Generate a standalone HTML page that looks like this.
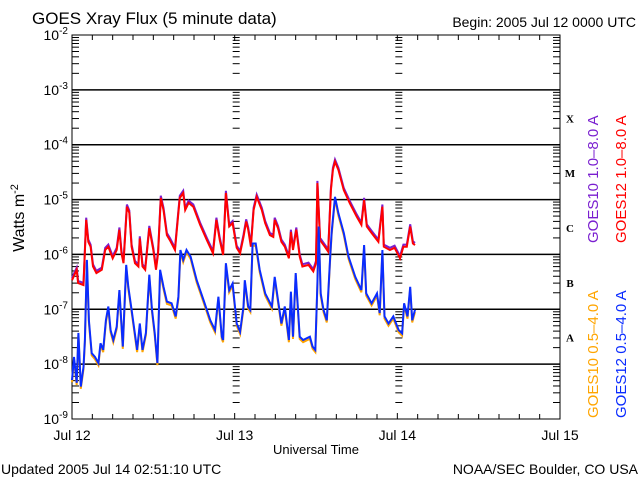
<!DOCTYPE html>
<html><head><meta charset="utf-8"><style>
html,body{margin:0;padding:0;background:#fff;}
svg{display:block;font-family:"Liberation Sans",sans-serif;}
</style></head><body>
<svg id="chart" width="640" height="480" viewBox="0 0 640 480" xmlns="http://www.w3.org/2000/svg">
<rect width="640" height="480" fill="#fff"/>
<text x="32" y="24" font-size="17">GOES Xray Flux (5 minute data)</text>
<text x="636" y="27" font-size="14" text-anchor="end">Begin:  2005 Jul 12 0000 UTC</text>
<text transform="translate(24,218) rotate(-90)" font-size="16" text-anchor="middle">Watts m<tspan dy="-6" font-size="11">-2</tspan></text>
<text x="316" y="454" font-size="13" text-anchor="middle">Universal Time</text>
<text x="1" y="474" font-size="14">Updated 2005 Jul 14 02:51:10 UTC</text>
<text x="638" y="474" font-size="14" text-anchor="end">NOAA/SEC Boulder, CO USA</text>
<g id="axes"></g>
<g id="series"></g>
<g id="legend">
<text transform="translate(598,243) rotate(-90)" font-size="15" fill="#7a1fd0">GOES10 1.0–8.0 A</text>
<text transform="translate(626,243) rotate(-90)" font-size="15" fill="#ff0000">GOES12 1.0–8.0 A</text>
<text transform="translate(598,418) rotate(-90)" font-size="15" fill="#ffa500">GOES10 0.5–4.0 A</text>
<text transform="translate(626,418) rotate(-90)" font-size="15" fill="#0a2cff">GOES12 0.5–4.0 A</text>
</g>
</svg>
<script>
const yDecades = [-2,-3,-4,-5,-6,-7,-8,-9];
const dayLabels = ["Jul 12","Jul 13","Jul 14","Jul 15"];
const flareClasses = ["X","M","C","B","A"];
const flareExps = [-3.5,-4.5,-5.5,-6.5,-7.5];
const longHours = [0,0.7,0.9,1.7,2.1,2.4,2.75,3.1,3.6,4.4,4.9,5.35,6.0,6.6,7.0,7.3,7.6,8.1,8.45,8.8,9.3,9.8,10.0,10.4,10.8,11.4,12.0,12.4,12.7,13.1,13.5,14.0,14.45,15.2,15.7,15.9,16.4,16.7,17.2,17.9,18.9,19.9,20.8,21.3,21.8,22.3,22.7,23.2,23.7,24.3,24.8,25.3,25.7,26.0,26.4,26.8,27.25,28.0,28.5,29.2,29.7,29.9,30.4,30.9,31.4,32.0,32.3,32.6,33.1,33.6,34.0,34.9,35.6,36.0,36.2,36.6,37.3,37.8,38.2,38.5,38.8,39.3,40.1,41.0,42.0,42.7,43.1,43.5,44.2,45.2,45.8,46.0,46.9,47.6,48.4,48.9,49.4,49.9,50.3,50.6];
const longLog = [-6.47,-6.28,-6.52,-6.56,-5.37,-5.77,-5.86,-6.22,-6.34,-6.28,-5.92,-5.86,-6.07,-5.92,-5.55,-5.98,-6.16,-5.13,-5.24,-5.86,-6.16,-6.22,-5.71,-6.22,-6.28,-5.52,-5.92,-6.28,-5.98,-4.97,-5.19,-5.65,-5.74,-5.92,-5.24,-4.97,-4.88,-5.19,-5.06,-5.13,-5.46,-5.74,-5.98,-5.37,-5.74,-6.01,-4.88,-5.49,-5.43,-5.88,-5.98,-5.68,-5.40,-5.55,-5.86,-5.19,-4.95,-5.19,-5.43,-5.65,-5.68,-5.37,-5.52,-5.77,-5.86,-6.07,-5.59,-5.92,-5.55,-6.04,-6.22,-6.19,-6.31,-6.16,-4.70,-5.74,-5.86,-5.95,-4.83,-4.46,-4.31,-4.46,-4.83,-5.07,-5.31,-5.46,-5.01,-5.49,-5.61,-5.77,-5.13,-5.86,-5.92,-5.88,-6.07,-5.86,-5.86,-5.49,-5.80,-5.83];
const shortHours = [0,0.3,0.7,0.95,1.3,1.7,1.9,2.2,2.5,2.9,3.4,3.9,4.2,4.6,5.0,5.35,5.7,6.1,6.6,7.0,7.5,8.0,8.3,8.8,9.2,9.6,10.0,10.4,10.9,11.4,11.8,12.2,12.6,13.0,13.5,14.0,14.7,15.3,15.7,16.0,16.4,16.9,17.5,18.4,19.4,20.4,21.1,21.6,22.1,22.3,22.7,23.2,23.7,24.3,24.8,25.3,25.5,26.0,26.3,26.65,27.1,27.7,28.5,29.5,29.9,30.4,30.9,31.4,32.0,32.3,32.6,33.0,33.6,34.1,35.1,35.5,35.9,36.2,36.4,36.7,37.1,37.6,38.1,38.3,38.8,39.3,40.1,40.8,41.8,42.7,43.1,43.4,44.2,45.0,45.4,45.8,46.1,46.7,47.4,48.2,48.7,49.0,49.5,49.9,50.2,50.6];
const shortLog = [-8.29,-7.87,-8.34,-7.43,-8.41,-8.05,-7.56,-6.10,-7.20,-7.80,-7.87,-7.98,-7.62,-7.74,-7.20,-6.95,-7.38,-7.56,-7.32,-6.65,-7.68,-6.19,-6.59,-7.01,-7.38,-7.74,-7.26,-7.74,-7.43,-6.37,-7.01,-7.43,-7.98,-6.28,-6.59,-6.86,-6.89,-7.13,-6.77,-5.92,-6.10,-5.92,-6.04,-6.47,-6.83,-7.20,-7.38,-6.77,-7.50,-7.56,-6.16,-6.65,-6.53,-7.26,-7.41,-6.95,-6.47,-6.95,-7.01,-5.80,-5.80,-6.28,-6.71,-6.95,-6.41,-6.83,-7.26,-6.95,-7.56,-6.68,-7.50,-6.34,-7.50,-7.56,-7.50,-7.68,-7.74,-6.53,-5.49,-6.71,-7.01,-7.20,-6.04,-5.61,-4.95,-5.25,-5.61,-6.04,-6.41,-6.65,-5.83,-6.71,-6.89,-6.71,-7.07,-5.92,-7.13,-7.26,-7.13,-7.38,-7.44,-6.89,-7.13,-6.59,-7.20,-7.01];

const L=72,R=560,T=35,B=419;
const xS = h => L + h*(R-L)/72;
const yS = lg => T + (-2-lg)*(B-T)/7;
const NS="http://www.w3.org/2000/svg";
function mk(tag,attrs,parent){const e=document.createElementNS(NS,tag);for(const k in attrs)e.setAttribute(k,attrs[k]);parent.appendChild(e);return e;}
const ax=document.getElementById('axes');
const frame=mk('rect',{x:L,y:T,width:R-L,height:B-T,fill:'none',stroke:'#000','stroke-width':1},ax);


yDecades.forEach(d=>{
  const y=yS(d);
  if(d<-2 && d>-9){const g=mk('line',{x1:L,x2:R,y1:y,y2:y,stroke:'#000','stroke-width':1.5},ax);
    
    }
  const t=mk('text',{x:L-4,y:y+5,'font-size':14,'text-anchor':'end'},ax);
  
  
  t.textContent='10';
  const s=mk('tspan',{dy:-6,'font-size':10},t);s.textContent=String(d);
  if(d>-9){for(let m=2;m<=9;m++){const yy=yS(d-1+Math.log10(m));
    [[L,L+7],[R-7,R],[xS(24)-2,xS(24)+5],[xS(48)-2,xS(48)+5]].forEach(p=>{
      mk('line',{x1:p[0],x2:p[1],y1:yy,y2:yy,stroke:'#000','stroke-width':1},ax);});}}
});
for(let h=3;h<72;h+=3){const x=xS(h);const len=h%24===0?0:5;
  if(len){mk('line',{x1:x,x2:x,y1:T,y2:T+len,stroke:'#000'},ax);mk('line',{x1:x,x2:x,y1:B,y2:B-len,stroke:'#000'},ax);}}
dayLabels.forEach((lab,i)=>{const x=xS(i*24);
  const t=mk('text',{x:x,y:440,'font-size':14,'text-anchor':'middle'},ax);
  
  
  t.textContent=lab;
  if(i>0&&i<3){mk('line',{x1:x,x2:x,y1:T,y2:T+6,stroke:'#000','stroke-width':1},ax);mk('line',{x1:x,x2:x,y1:B-6,y2:B,stroke:'#000','stroke-width':1},ax);}});
flareClasses.forEach((c,i)=>{const t=mk('text',{x:570,y:yS(flareExps[i])+5,'font-size':11,'font-weight':'bold','font-family':'Liberation Serif,serif','text-anchor':'middle'},ax);
  
  
  t.textContent=c;});
const sg=document.getElementById('series');
function line(hours,vals,off,color,name){
  const pts=hours.map((h,i)=>xS(h).toFixed(1)+','+yS(vals[i]+off).toFixed(1)).join(' ');
  const p=mk('polyline',{points:pts,fill:'none',stroke:color,'stroke-width':2,'stroke-linejoin':'miter'},sg);
  
  
}
line(longHours,longLog,0.04,'#7a1fd0','goes10-long-series');
line(longHours,longLog,0,'#ff0000','goes12-long-series');
line(shortHours,shortLog,-0.04,'#ffa500','goes10-short-series');
line(shortHours,shortLog,0,'#0a2cff','goes12-short-series');
</script>
</body></html>
